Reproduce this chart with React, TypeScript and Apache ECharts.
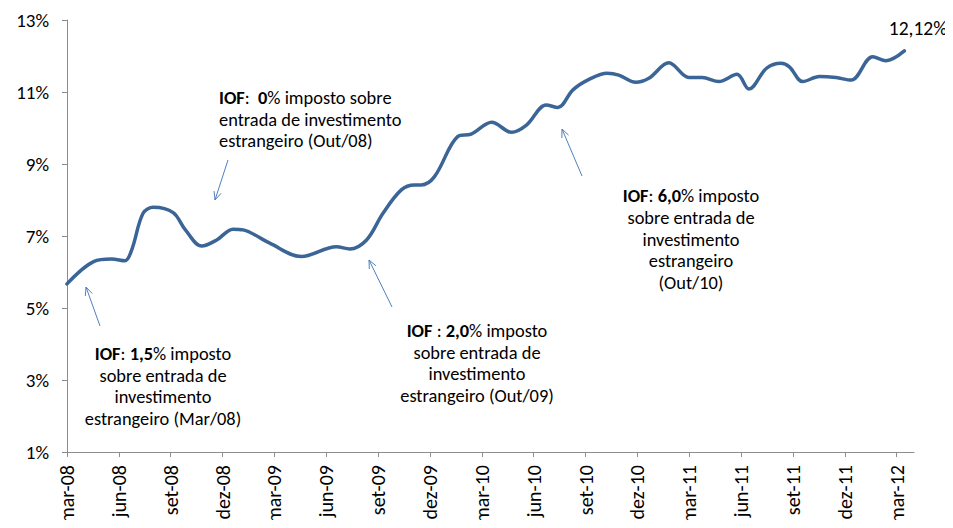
import React, { useEffect, useRef } from "react";
import * as echarts from "echarts";

// Month labels for the category axis (one per month, mar-08 .. abr-12)
const monthLabels = [
  "mar-08", "abr-08", "mai-08", "jun-08", "jul-08", "ago-08", "set-08", "out-08", "nov-08", "dez-08",
  "jan-09", "fev-09", "mar-09", "abr-09", "mai-09", "jun-09", "jul-09", "ago-09", "set-09", "out-09", "nov-09", "dez-09",
  "jan-10", "fev-10", "mar-10", "abr-10", "mai-10", "jun-10", "jul-10", "ago-10", "set-10", "out-10", "nov-10", "dez-10",
  "jan-11", "fev-11", "mar-11", "abr-11", "mai-11", "jun-11", "jul-11", "ago-11", "set-11", "out-11", "nov-11", "dez-11",
  "jan-12", "fev-12", "mar-12", "abr-12",
];

// Position of each observation, in months since mar-08
const obsMonth = [
  0.0, 1.54, 2.58, 3.35, 3.74, 4.4, 5.0, 6.14, 6.85, 7.79, 8.66, 9.61, 10.19, 11.73, 13.56,
  15.59, 16.36, 17.33, 18.28, 19.34, 20.1, 20.49, 21.26, 22.6, 23.38, 24.57, 25.72, 26.58,
  27.72, 28.4, 29.27, 30.2, 31.25, 31.92, 32.9, 33.66, 34.82, 35.98, 36.75, 37.71, 38.76,
  39.45, 40.47, 41.31, 41.79, 42.56, 43.53, 44.49, 45.36, 46.61, 47.38, 48.44,
];

// Rate (%) at each observation
const rateValues = [
  5.67, 6.29, 6.36, 6.31, 6.61, 7.63, 7.8, 7.65, 7.17, 6.72, 6.89, 7.19, 7.17, 6.8, 6.43,
  6.7, 6.64, 6.89, 7.63, 8.28, 8.42, 8.42, 8.65, 9.76, 9.83, 10.16, 9.88, 10.08,
  10.64, 10.57, 11.06, 11.35, 11.52, 11.47, 11.27, 11.38, 11.81, 11.4, 11.4, 11.29, 11.49,
  11.08, 11.66, 11.8, 11.7, 11.29, 11.43, 11.4, 11.33, 11.98, 11.87, 12.14,
];

const yTicks = { min: 1, max: 13, interval: 2 };
const lastLabel = "12,12%";

const FONT = "Carlito, Lato, 'Liberation Sans', sans-serif";
const ARROW_COLOR = "#4f81bd";
const NOTE_SIZE = 18.4;
const NOTE_LH = 21.7;

function arrow(x1: number, y1: number, x2: number, y2: number) {
  const ang = Math.atan2(y2 - y1, x2 - x1);
  const len = 9;
  const spread = 0.42;
  const p1 = [x2 - len * Math.cos(ang - spread), y2 - len * Math.sin(ang - spread)];
  const p2 = [x2 - len * Math.cos(ang + spread), y2 - len * Math.sin(ang + spread)];
  return [
    {
      type: "line",
      shape: { x1, y1, x2, y2 },
      style: { stroke: ARROW_COLOR, lineWidth: 1 },
      silent: true,
    },
    {
      type: "polyline",
      shape: { points: [p1, [x2, y2], p2] },
      style: { stroke: ARROW_COLOR, lineWidth: 1, fill: null },
      silent: true,
    },
  ];
}

const rich = {
  b: { fontFamily: FONT, fontSize: NOTE_SIZE, fontWeight: "bold", fill: "#000", lineHeight: NOTE_LH },
  n: { fontFamily: FONT, fontSize: NOTE_SIZE, fill: "#000", lineHeight: NOTE_LH },
};

function note(x: number, y: number, text: string, align: string) {
  return {
    type: "text",
    x,
    y,
    silent: true,
    style: {
      text,
      rich,
      align,
      verticalAlign: "middle",
      fontFamily: FONT,
      fontSize: NOTE_SIZE,
      fill: "#000",
      lineHeight: NOTE_LH,
    },
  };
}

export default function App() {
  const ref = useRef<HTMLDivElement>(null);

  useEffect(() => {
    if (!ref.current) return;
    const chart = echarts.init(ref.current, undefined, { renderer: "svg" });
    const data = obsMonth.map((m, i) => [m, rateValues[i]]);
    const axisColor = "#8c8c8c";

    chart.setOption({
      animation: false,
      backgroundColor: "#fff",
      grid: { left: 67, right: 39, top: 20, bottom: 76, containLabel: false },
      xAxis: [
        {
          type: "category",
          data: monthLabels,
          boundaryGap: false,
          axisLine: { lineStyle: { color: axisColor, width: 1 } },
          axisTick: {
            show: true,
            length: 5,
            interval: (i: number) => i % 3 === 0,
            lineStyle: { color: axisColor },
          },
          axisLabel: {
            interval: (i: number) => i % 3 === 0,
            rotate: 90,
            margin: 13,
            fontFamily: FONT,
            fontSize: 20,
            color: "#000",
          },
          splitLine: { show: false },
        },
        {
          type: "value",
          min: 0,
          max: monthLabels.length - 1,
          show: false,
          splitLine: { show: false },
        },
      ],
      yAxis: {
        type: "value",
        min: yTicks.min,
        max: yTicks.max,
        interval: yTicks.interval,
        axisLine: { show: true, lineStyle: { color: axisColor, width: 1 } },
        axisTick: { show: true, length: 5, lineStyle: { color: axisColor } },
        axisLabel: {
          formatter: "{value}%",
          margin: 18,
          fontFamily: FONT,
          fontSize: 19,
          color: "#000",
        },
        splitLine: { show: false },
      },
      series: [
        {
          type: "line",
          xAxisIndex: 1,
          data,
          smooth: 0.35,
          showSymbol: false,
          lineStyle: { color: "#3b6596", width: 3.5, cap: "round", join: "round" },
          silent: true,
        },
      ],
      graphic: [
        ...arrow(100, 326, 86, 287),
        ...arrow(228, 160, 215, 200),
        ...arrow(392, 307, 369, 260),
        ...arrow(582, 176, 562, 129),
        note(163, 386, "{b|IOF}{n|: }{b|1,5}{n|% imposto}\n{n|sobre entrada de}\n{n|investimento}\n{n|estrangeiro (Mar/08)}", "center"),
        note(219, 119, "{b|IOF}{n|:  }{b|0}{n|% imposto sobre}\n{n|entrada de investimento}\n{n|estrangeiro (Out/08)}", "left"),
        note(477, 363, "{b|IOF}{n| : }{b|2,0}{n|% imposto}\n{n|sobre entrada de}\n{n|investimento}\n{n|estrangeiro (Out/09)}", "center"),
        note(691, 239, "{b|IOF}{n|: }{b|6,0}{n|% imposto}\n{n|sobre entrada de}\n{n|investimento}\n{n|estrangeiro}\n{n|(Out/10)}", "center"),
        {
          type: "text",
          x: 918,
          y: 28,
          silent: true,
          style: {
            text: lastLabel,
            align: "center",
            verticalAlign: "middle",
            fontFamily: FONT,
            fontSize: 19.5,
            fill: "#000",
          },
        },
      ],
    });

    return () => chart.dispose();
  }, []);

  return <div ref={ref} style={{ width: 953, height: 528, margin: -8 }} />;
}
